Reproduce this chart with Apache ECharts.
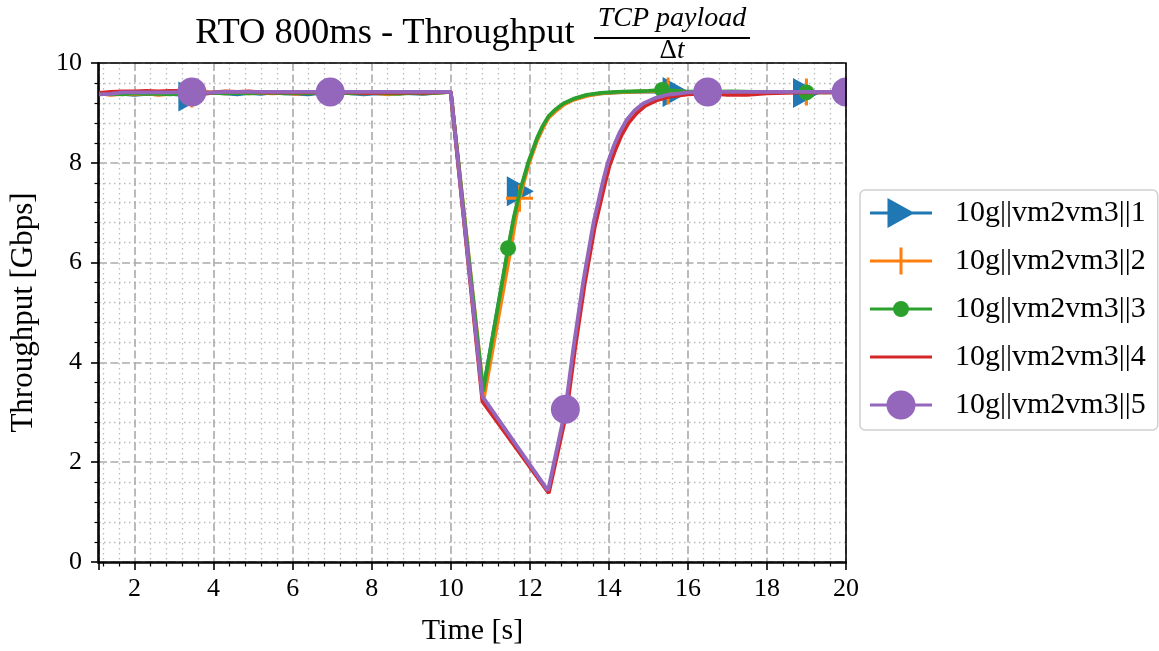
<!DOCTYPE html>
<html><head><meta charset="utf-8">
<script src="https://cdn.jsdelivr.net/npm/echarts@6/dist/echarts.min.js"></script>
<style>html,body{margin:0;padding:0;background:#fff}#c{width:1159px;height:651px}</style>
</head><body><div id="c"></div>
<script>
// ---------- data ----------
const seriesNames = ['10g||vm2vm3||1','10g||vm2vm3||2','10g||vm2vm3||3','10g||vm2vm3||4','10g||vm2vm3||5'];
const seriesColors = ['#1f77b4','#ff7f0e','#2ca02c','#d62728','#9467bd'];

// steady-state part (before the loss event), common sampling times [s]
const flatTimes = [1.1,1.4,1.7,2.0,2.3,2.6,2.9,3.2,3.45,3.7,4.0,4.3,4.6,4.9,5.2,5.5,5.8,6.1,6.4,6.7,6.95,7.2,7.5,7.8,8.1,8.4,8.7,9.0,9.3,9.6,10.0];
const blueFlat   = [9.38,9.37,9.38,9.36,9.38,9.37,9.38,9.36,9.33,9.38,9.40,9.39,9.37,9.40,9.38,9.41,9.39,9.38,9.37,9.40,9.40,9.42,9.39,9.37,9.39,9.38,9.40,9.39,9.38,9.40,9.42];
const orangeFlat = [9.39,9.36,9.38,9.37,9.39,9.36,9.38,9.40,9.38,9.44,9.40,9.39,9.40,9.39,9.40,9.39,9.40,9.38,9.40,9.39,9.40,9.41,9.40,9.39,9.40,9.37,9.39,9.40,9.39,9.40,9.42];
const greenFlat  = [9.38,9.38,9.37,9.39,9.38,9.38,9.37,9.39,9.34,9.39,9.40,9.39,9.40,9.39,9.40,9.40,9.39,9.40,9.39,9.40,9.40,9.40,9.39,9.40,9.40,9.39,9.38,9.40,9.39,9.40,9.42];
const redFlat    = [9.40,9.42,9.43,9.43,9.44,9.43,9.44,9.44,9.40,9.38,9.41,9.43,9.42,9.43,9.41,9.41,9.41,9.41,9.41,9.41,9.41,9.41,9.41,9.40,9.40,9.41,9.40,9.41,9.40,9.41,9.42];
const purpleFlat = [9.37,9.38,9.41,9.41,9.41,9.41,9.41,9.42,9.42,9.40,9.41,9.42,9.42,9.42,9.42,9.42,9.42,9.42,9.42,9.42,9.42,9.42,9.42,9.42,9.42,9.42,9.42,9.42,9.42,9.42,9.42];

// after the loss event
const bluePostTimes   = [10.8,11.45,11.6,11.76,11.97,12.18,12.32,12.47,12.65,12.85,13.1,13.44,13.8,14.2,14.54,15.1,15.7,16.3,16.9,17.5,18.1,18.6,19.0,19.5,20.0];
const bluePost        = [3.36,6.25,6.88,7.43,8.0,8.46,8.70,8.91,9.05,9.17,9.27,9.35,9.39,9.41,9.42,9.43,9.42,9.41,9.42,9.39,9.41,9.42,9.40,9.42,9.42];
const orangePostTimes = [10.84,11.5,11.62,11.74,11.97,12.18,12.32,12.47,12.65,12.85,13.1,13.44,13.8,14.2,14.54,15.0,15.5,16.0,16.6,17.2,17.8,18.4,19.0,19.5,20.0];
const orangePost      = [3.3,6.2,6.78,7.29,7.97,8.44,8.68,8.9,9.03,9.16,9.26,9.34,9.39,9.41,9.42,9.43,9.44,9.42,9.41,9.42,9.41,9.42,9.42,9.41,9.42];
const greenPostTimes  = [10.82,11.45,11.6,11.76,11.97,12.18,12.32,12.47,12.65,12.85,13.1,13.44,13.8,14.2,14.54,15.0,15.35,15.9,16.5,17.1,17.7,18.3,19.0,19.5,20.0];
const greenPost       = [3.42,6.29,6.92,7.46,8.03,8.49,8.73,8.93,9.07,9.19,9.28,9.36,9.40,9.42,9.43,9.44,9.46,9.43,9.42,9.43,9.42,9.42,9.41,9.41,9.41];
const redPostTimes    = [10.8,12.48,12.93,13.14,13.39,13.64,13.9,14.02,14.16,14.32,14.5,14.7,14.92,15.2,15.5,15.8,16.0,16.5,17.0,17.5,18.0,18.5,19.0,19.5,20.0];
const redPost         = [3.22,1.38,3.0,4.25,5.58,6.7,7.58,7.95,8.25,8.55,8.8,8.99,9.14,9.25,9.32,9.35,9.37,9.39,9.36,9.36,9.39,9.40,9.41,9.41,9.42];
const purplePostTimes = [10.8,12.46,12.9,13.11,13.36,13.61,13.86,13.98,14.12,14.28,14.45,14.65,14.87,15.15,15.46,15.8,16.0,16.5,17.0,17.6,18.2,18.8,19.4,20.0];
const purplePost      = [3.32,1.43,3.06,4.33,5.66,6.79,7.66,8.02,8.33,8.62,8.86,9.05,9.19,9.29,9.36,9.39,9.41,9.42,9.42,9.42,9.42,9.42,9.42,9.42];

// sample times carrying a marker
const blueMarkerTimes   = [3.45, 11.76, 15.7, 19.0];
const orangeMarkerTimes = [3.45, 11.74, 15.5, 19.0];
const greenMarkerTimes  = [3.45, 11.45, 15.35, 19.0];
const redMarkerTimes    = [];
const purpleMarkerTimes = [3.45, 6.95, 12.9, 16.5, 20.0];

const xTickLabels = ['2','4','6','8','10','12','14','16','18','20'];

// ---------- styling ----------
const FONT = '"Liberation Serif", "DejaVu Serif", serif';
const markerSymbols = [
  {symbol:'path://M0,0L27,15L0,30Z', size:[27,30]},
  {symbol:'path://M0,12H27V15H0Z M12,0H15V27H12Z', size:27},
  {symbol:'circle', size:16},
  null,
  {symbol:'circle', size:29}
];
const legendIcons = [
  'path://M0,13.5H62V16.5H0Z M17.5,0L44.5,15L17.5,30Z',
  'path://M0,13.5H62V16.5H0Z M29.5,1.5H32.5V28.5H29.5Z',
  'path://M0,13.5H62V16.5H0Z M23,15A8,8,0,1,1,39,15A8,8,0,1,1,23,15Z',
  'path://M0,13.5H62V16.5H0Z',
  'path://M0,13.5H62V16.5H0Z M16.5,15A14.5,14.5,0,1,1,45.5,15A14.5,14.5,0,1,1,16.5,15Z'
];

const allTimes = [bluePostTimes, orangePostTimes, greenPostTimes, redPostTimes, purplePostTimes].map(p => flatTimes.concat(p));
const allVals = [
  blueFlat.concat(bluePost), orangeFlat.concat(orangePost), greenFlat.concat(greenPost),
  redFlat.concat(redPost), purpleFlat.concat(purplePost)
];
const allMarks = [blueMarkerTimes, orangeMarkerTimes, greenMarkerTimes, redMarkerTimes, purpleMarkerTimes];

function build(i) {
  const ms = markerSymbols[i];
  return allTimes[i].map((t, k) => {
    const isMark = ms && allMarks[i].some(m => Math.abs(m - t) < 1e-6);
    return isMark ? {value:[t, allVals[i][k]], symbol: ms.symbol, symbolSize: ms.size}
                  : {value:[t, allVals[i][k]], symbol:'none'};
  });
}

const series = seriesNames.map((name, i) => ({
  type:'line', name, data: build(i), symbol:'none', showSymbol:true,
  lineStyle:{width:3.8, color: seriesColors[i]}, itemStyle:{color: seriesColors[i], opacity:1},
  z: 2 + i, clip:true, silent:true, animation:false, emphasis:{disabled:true}
}));

const chart = echarts.init(document.getElementById('c'), null, {renderer:'canvas'});
chart.setOption({
  backgroundColor:'#fff',
  animation:false,
  grid:{left:98, right:313, top:63, bottom:88, containLabel:false},
  xAxis:{
    type:'value', min:1.1, max:20, splitNumber:10,
    axisLine:{show:true, lineStyle:{color:'#000', width:1.6}},
    axisTick:{show:true, length:8, lineStyle:{color:'#000', width:1.6}},
    minorTick:{show:true, splitNumber:5, length:4.5, lineStyle:{color:'#000', width:1.2}},
    splitLine:{show:true, lineStyle:{color:'#aaaaaa', width:1.6, type:[8,3.5]}},
    minorSplitLine:{show:true, lineStyle:{color:'#bbbbbb', width:1.3, type:[1.5,3.5]}},
    axisLabel:{fontSize:26, fontFamily:FONT, color:'#000', margin:14,
      formatter: v => { const s = String(Math.round(v)); return (Math.abs(v - Math.round(v)) < 1e-9 && xTickLabels.includes(s)) ? s : ''; }},
    name:'Time [s]', nameLocation:'middle', nameGap:54,
    nameTextStyle:{fontSize:30, fontFamily:FONT, color:'#000'}
  },
  yAxis:{
    type:'value', min:0, max:10, interval:2,
    axisLine:{show:true, lineStyle:{color:'#000', width:1.6}},
    axisTick:{show:true, length:8, lineStyle:{color:'#000', width:1.6}},
    minorTick:{show:true, splitNumber:5, length:4.5, lineStyle:{color:'#000', width:1.2}},
    splitLine:{show:true, lineStyle:{color:'#aaaaaa', width:1.6, type:[8,3.5]}},
    minorSplitLine:{show:true, lineStyle:{color:'#bbbbbb', width:1.3, type:[1.5,3.5]}},
    axisLabel:{fontSize:26, fontFamily:FONT, color:'#000', margin:17},
    name:'Throughput [Gbps]', nameLocation:'middle', nameGap:60,
    nameTextStyle:{fontSize:31, fontFamily:FONT, color:'#000'}
  },
  legend:{
    orient:'vertical', left:860, top:190,
    padding:[8, 12, 10, 10], itemWidth:62, itemHeight:30, itemGap:18,
    backgroundColor:'#fff', borderColor:'#d0d0d0', borderWidth:1.5, borderRadius:5,
    textStyle:{fontSize:30, fontFamily:FONT, color:'#000', padding:[0,0,0,18]},
    selectedMode:false,
    data: seriesNames.map((n, i) => ({name:n, icon: legendIcons[i]}))
  },
  graphic:{
    elements:[
      {type:'rect', z:100, silent:true, shape:{x:847, y:60, width:15, height:65}, style:{fill:'#ffffff'}},
      {type:'rect', z:101, silent:true, shape:{x:98, y:63, width:748, height:500}, style:{fill:null, stroke:'#000', lineWidth:1.6}},
      {type:'text', z:101, silent:true, style:{text:'RTO 800ms - Throughput', x:385, y:33, fill:'#000',
        font:'36.5px ' + FONT, textAlign:'center', textVerticalAlign:'middle', align:'center', verticalAlign:'middle'}},
      {type:'text', z:101, silent:true, style:{text:'TCP payload', x:672, y:19, fill:'#000',
        font:'italic 28px ' + FONT, textAlign:'center', textVerticalAlign:'middle', align:'center', verticalAlign:'middle'}},
      {type:'line', z:101, silent:true, shape:{x1:594, y1:38, x2:750, y2:38}, style:{stroke:'#000', lineWidth:1.8}},
      {type:'text', z:101, silent:true, style:{text:'{a|Δ}{b|t}', x:672, y:51, fill:'#000',
        textAlign:'center', textVerticalAlign:'middle', align:'center', verticalAlign:'middle',
        rich:{a:{fontSize:27, fontFamily:FONT, color:'#000'}, b:{fontSize:27, fontFamily:FONT, fontStyle:'italic', color:'#000'}}}}
    ]
  },
  series
});
</script></body></html>
